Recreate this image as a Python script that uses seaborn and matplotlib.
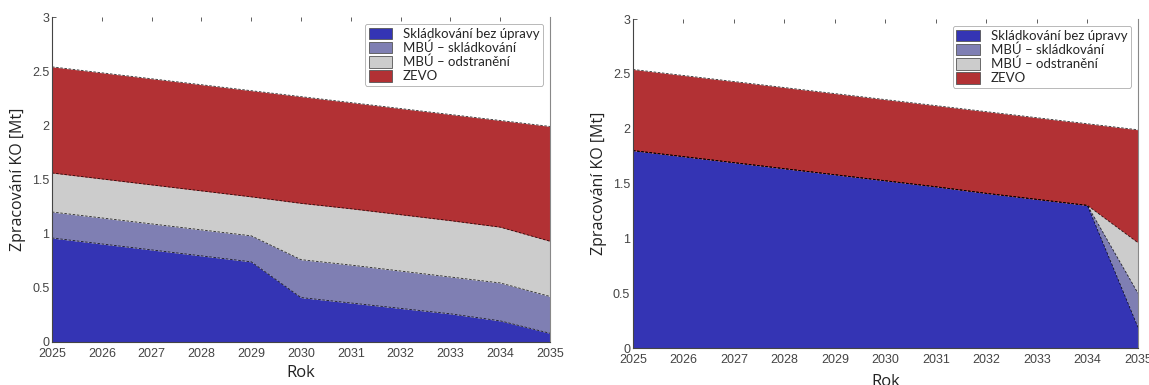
import numpy as np
import pandas as pd
import matplotlib
matplotlib.use("Agg")
import matplotlib.pyplot as plt
import seaborn as sns
from matplotlib.patches import Patch

years = [2025, 2026, 2027, 2028, 2029, 2030, 2031, 2032, 2033, 2034, 2035]
labels = ["Skládkování bez úpravy", "MBÚ – skládkování", "MBÚ – odstranění", "ZEVO"]
colors = ["#3434b4", "#7f7fb3", "#cccccc", "#b23134"]

# Scenario A (left) – values per category [Mt]
a_sklad = [0.96, 0.905, 0.85, 0.795, 0.74, 0.41, 0.36, 0.31, 0.26, 0.195, 0.08]
a_mbu_skl = [0.24, 0.24, 0.24, 0.24, 0.24, 0.35, 0.35, 0.345, 0.34, 0.35, 0.34]
a_mbu_odst = [0.36, 0.36, 0.36, 0.36, 0.36, 0.52, 0.52, 0.52, 0.52, 0.515, 0.51]
a_zevo = [0.98, 0.98, 0.98, 0.98, 0.98, 0.985, 0.98, 0.98, 0.98, 0.985, 1.06]

# Scenario B (right)
b_sklad = [1.80, 1.745, 1.69, 1.635, 1.58, 1.525, 1.47, 1.41, 1.355, 1.30, 0.19]
b_mbu_skl = [0, 0, 0, 0, 0, 0, 0, 0, 0, 0, 0.31]
b_mbu_odst = [0, 0, 0, 0, 0, 0, 0, 0, 0, 0, 0.46]
b_zevo = [0.74, 0.74, 0.74, 0.74, 0.74, 0.74, 0.74, 0.745, 0.745, 0.745, 1.03]

sns.set_theme(style="white")
plt.rcParams["font.family"] = ["Liberation Sans", "DejaVu Sans"]

fig = plt.figure(figsize=(11.49, 3.85), dpi=100)
ax_l = fig.add_axes([0.0453, 0.1117, 0.4334, 0.8441])
ax_r = fig.add_axes([0.5509, 0.0961, 0.4395, 0.8545])


def draw(ax, series, label_pad):
    ax.stackplot(years, *series, colors=colors, linewidth=0)
    cum = np.cumsum(np.array(series, dtype=float), axis=0)
    for row in cum:
        df = pd.DataFrame({"Rok": years, "v": row})
        sns.lineplot(data=df, x="Rok", y="v", ax=ax, color="black",
                     linestyle=(0, (3, 2)), linewidth=0.6, alpha=0.8)
    ax.set_xlim(2025, 2035)
    ax.set_ylim(0, 3)
    ax.set_xticks(years)
    ax.set_xticklabels([str(y) for y in years])
    ax.set_yticks([0, 0.5, 1, 1.5, 2, 2.5, 3])
    ax.set_yticklabels(["0", "0.5", "1", "1.5", "2", "2.5", "3"])
    ax.tick_params(axis="both", labelsize=9, colors="#444444", direction="in",
                   length=3, width=0.6, pad=2, top=True, bottom=True, left=True)
    ax.tick_params(axis="x", pad=4)
    ax.spines["top"].set_visible(False)
    ax.spines["right"].set_color("#888888")
    ax.spines["right"].set_linewidth(0.8)
    ax.spines["left"].set_color("#444444")
    ax.spines["bottom"].set_color("#444444")
    ax.spines["left"].set_linewidth(0.8)
    ax.spines["bottom"].set_linewidth(0.8)
    ax.set_xlabel("Rok", fontsize=12, family=["Open Sans", "DejaVu Sans"],
                  color="#222222", labelpad=label_pad)
    ax.set_ylabel("Zpracování KO [Mt]", fontsize=11.5,
                  family=["Open Sans", "DejaVu Sans"], color="#222222", labelpad=4)
    handles = [Patch(facecolor=c, edgecolor="#555555", linewidth=0.6) for c in colors]
    leg = ax.legend(handles, labels, loc="upper right", bbox_to_anchor=(1.0, 1.0),
                    frameon=True, handlelength=1.8, handleheight=1.0,
                    handletextpad=0.8, labelspacing=0.12, borderpad=0.3,
                    prop={"family": ["Lato", "DejaVu Sans"], "size": 9.5})
    leg.get_frame().set_edgecolor("#999999")
    leg.get_frame().set_linewidth(0.6)


draw(ax_l, [a_sklad, a_mbu_skl, a_mbu_odst, a_zevo], 4)
draw(ax_r, [b_sklad, b_mbu_skl, b_mbu_odst, b_zevo], 6)

fig.savefig("out.png", dpi=100)
